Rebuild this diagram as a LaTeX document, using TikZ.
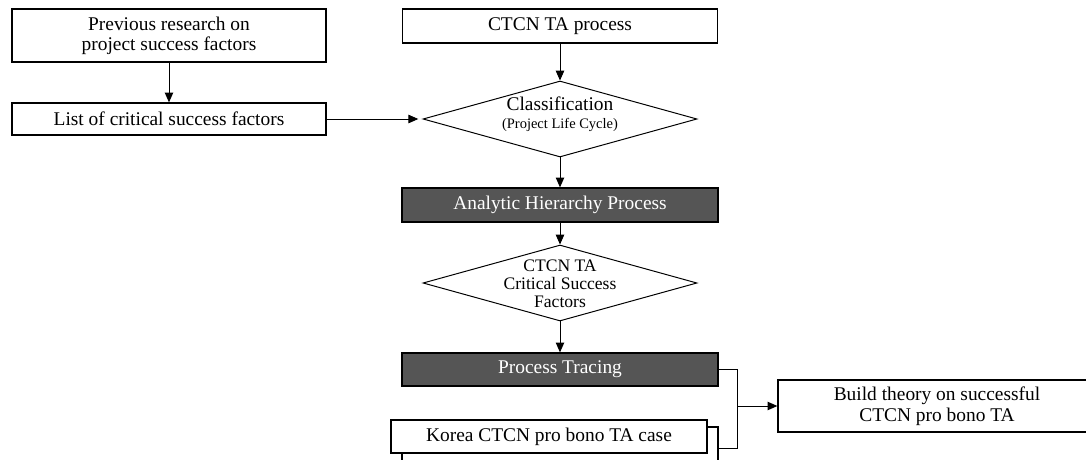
\documentclass[tikz,border=0pt]{standalone}
\usepackage{fontspec}
\setmainfont{Liberation Serif}
\usepackage{xcolor}
\usepackage{tikz}
\usetikzlibrary{positioning,calc}
\usetikzlibrary{shapes.geometric,arrows.meta}

\definecolor{grisfonce}{HTML}{555555}

\begin{document}
\begin{tikzpicture}[x=0.025cm,y=-0.025cm]

\tikzstyle{boite}=[rectangle, draw, line width=0.9pt, fill=white, inner sep=0pt, align=center, font=\fontsize{13.8}{14}\selectfont]
\tikzstyle{sombre}=[boite, fill=grisfonce, text=white]
\tikzstyle{losange}=[diamond, draw, line width=0.7pt, inner sep=0pt, minimum width=274*0.025cm, minimum height=76*0.025cm]
\tikzstyle{texte}=[align=center, inner sep=0pt]
\tikzstyle{suite}=[->, >={Triangle[length=7pt,width=6pt]}, line width=0.7pt]
\tikzstyle{lien}=[line width=0.7pt]

\useasboundingbox (0,0) rectangle (1086,460);

%les boites
\node[boite, minimum width=314*0.025cm, minimum height=53*0.025cm] (previous) at (169,35.5) {Previous research on\\project success factors};
\node[boite, minimum width=314*0.025cm, minimum height=32*0.025cm] (csflist) at (169,119) {List of critical success factors};
\node[boite, minimum width=315*0.025cm, minimum height=34*0.025cm] (ctcn) at (560,26) {CTCN TA process};
\node[losange] (classif) at (560,119) {};
\node[texte] (classiftxt) at (560,114) {{\fontsize{13.8}{14}\selectfont Classification}\\[1pt]{\fontsize{10.3}{12}\selectfont (Project Life Cycle)}};
\node[sombre, minimum width=316*0.025cm, minimum height=34*0.025cm] (ahp) at (560,205) {Analytic Hierarchy Process};
\node[losange] (csf) at (560,283) {};
\node[texte, font=\fontsize{12.5}{12.8}\selectfont] (csftxt) at (560,284) {CTCN TA\\Critical Success\\Factors};
\node[sombre, minimum width=316*0.025cm, minimum height=33*0.025cm] (tracing) at (560,369.5) {Process Tracing};
\node[boite, minimum width=316*0.025cm, minimum height=42*0.025cm] (koreaback) at (560,448) {};
\node[boite, minimum width=316*0.025cm, minimum height=33*0.025cm] (korea) at (549,436.5) {Korea CTCN pro bono TA case};
\node[boite, minimum width=318*0.025cm, minimum height=52*0.025cm, font=\fontsize{13.8}{15}\selectfont] (theory) at (937,406) {Build theory on successful\\CTCN pro bono TA};
\coordinate (jonction) at (737,406);

%les fleches
\draw[suite] (previous) -- (csflist);
\draw[suite] (csflist.east) -- ([xshift=-3pt]classif.west);
\draw[suite] (ctcn) -- (classif);
\draw[suite] (classif) -- (ahp);
\draw[suite] (ahp) -- (csf);
\draw[suite] (csf) -- (tracing);
\draw[lien] (tracing.east) -| (jonction);
\draw[lien] (koreaback.east) -| (jonction);
\draw[suite] (jonction) -- (theory.west);
\end{tikzpicture}
\end{document}
